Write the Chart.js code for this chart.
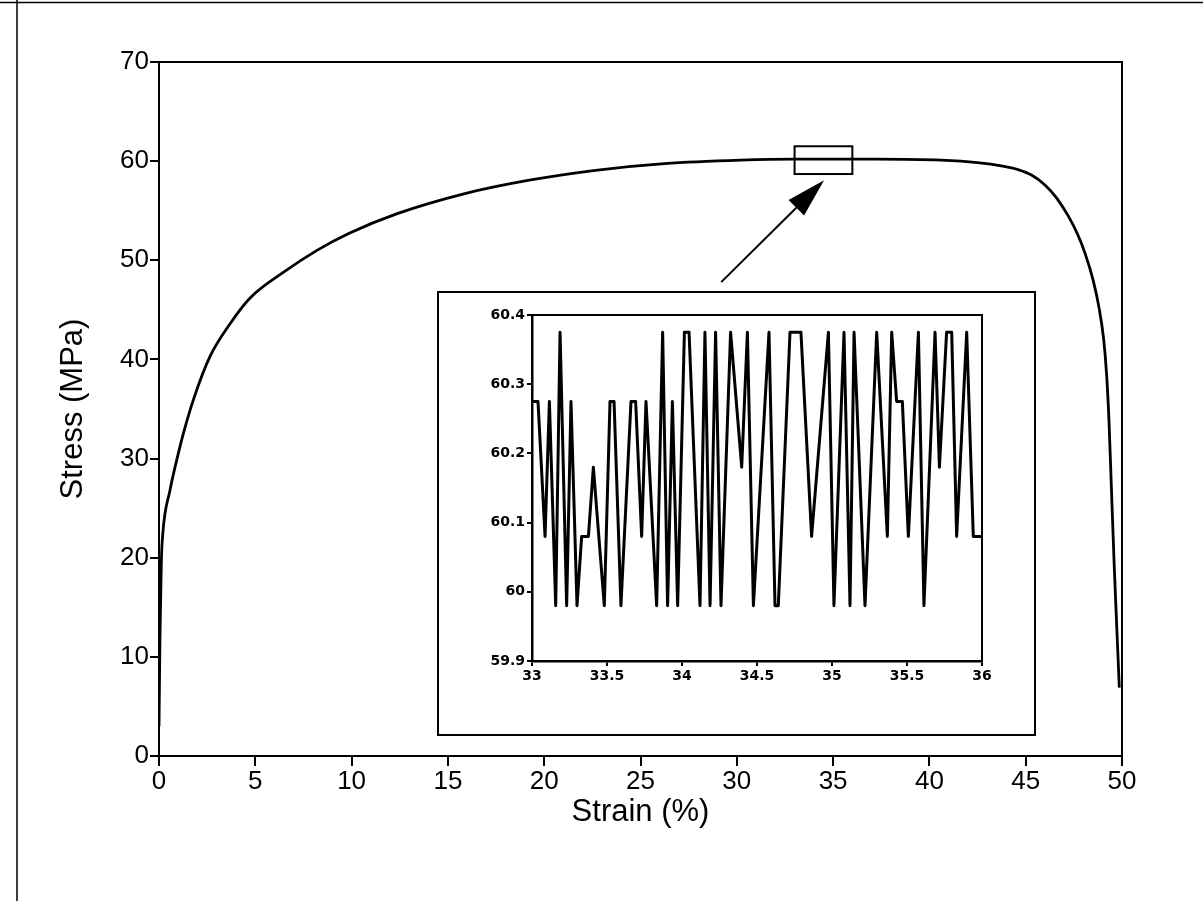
<!DOCTYPE html>
<html>
<head>
<meta charset="utf-8">
<script src="https://cdn.jsdelivr.net/npm/chart.js@4.4.1/dist/chart.umd.min.js"></script>
<style>
  html, body { margin: 0; padding: 0; background: #fff; overflow: hidden; }
  #wrap { position: relative; width: 1203px; height: 901px; }
  #main { position: absolute; left: 0; top: 0; }
  #inset { position: absolute; left: 437px; top: 291px; }
</style>
</head>
<body>
<div id="wrap">
  <canvas id="main" width="1203" height="901"></canvas>
  <canvas id="inset" width="599" height="445"></canvas>
</div>
<script>
// ---- Main curve (Strain %, Stress MPa) ----
const strain = [0, 0.05, 0.12, 0.2, 0.57, 1.0, 1.26, 1.78, 2.65, 3.69, 4.73, 6.47, 8.2, 9.85,
  12.37, 15.83, 19.3, 22.77, 26.24, 30.2, 33.0, 37.2, 40.6, 42.5, 43.8, 44.6, 45.3, 46.0,
  46.6, 47.2, 47.7, 48.1, 48.5, 48.8, 49.05, 49.2, 49.32, 49.45, 49.6, 49.75, 49.86];
const stress = [3, 12, 19.5, 22.5, 26.8, 30.5, 32.5, 35.9, 40.3, 43.6, 46.2, 48.8, 51.0, 52.7,
  54.7, 56.7, 58.1, 59.1, 59.75, 60.1, 60.2, 60.2, 60.1, 59.85, 59.5, 59.15, 58.6, 57.6,
  56.3, 54.5, 52.6, 50.6, 48.0, 45.3, 42.0, 38.5, 34.0, 27.0, 19.0, 12.0, 6.9];

// ---- Inset (zoom of 33-36 % strain) ----
const insetStrain = [33.00, 33.04, 33.087, 33.116, 33.158, 33.187, 33.231, 33.26, 33.30, 33.331,
  33.376, 33.409, 33.482, 33.52, 33.547, 33.593, 33.66, 33.691, 33.731, 33.76,
  33.831, 33.871, 33.904, 33.936, 33.971, 34.016, 34.047, 34.12, 34.153, 34.187,
  34.224, 34.26, 34.324, 34.398, 34.436, 34.476, 34.58, 34.62, 34.642, 34.72,
  34.793, 34.864, 34.976, 35.013, 35.08, 35.12, 35.147, 35.22, 35.298, 35.369,
  35.398, 35.431, 35.469, 35.509, 35.576, 35.613, 35.687, 35.716, 35.764, 35.798,
  35.831, 35.898, 35.942, 36.0];
const insetStress = [60.275, 60.275, 60.08, 60.275, 59.98, 60.375, 59.98, 60.275, 59.98, 60.08,
  60.08, 60.18, 59.98, 60.275, 60.275, 59.98, 60.275, 60.275, 60.08, 60.275,
  59.98, 60.375, 59.98, 60.275, 59.98, 60.375, 60.375, 59.98, 60.375, 59.98,
  60.375, 59.98, 60.375, 60.18, 60.375, 59.98, 60.375, 59.98, 59.98, 60.375,
  60.375, 60.08, 60.375, 59.98, 60.375, 59.98, 60.375, 59.98, 60.375, 60.08,
  60.375, 60.275, 60.275, 60.08, 60.375, 59.98, 60.375, 60.18, 60.375, 60.375,
  60.08, 60.375, 60.08, 60.08];

// ---- Axis settings ----
const xMin = 0, xMax = 50, xStep = 5;
const yMin = 0, yMax = 70, yStep = 10;
const insetXMin = 33, insetXMax = 36, insetXStep = 0.5;
const insetYMin = 59.9, insetYMax = 60.4, insetYStep = 0.1;
const zoomBox = { x0: 33, x1: 36, y0: 58.7, y1: 61.5 };
const arrowFrom = { x: 29.19, y: 47.8 };
const arrowTo = { x: 34.53, y: 58.07 };

const FONT = "'Liberation Sans', Arial, Helvetica, sans-serif";
const INSET_FONT = "'DejaVu Sans', sans-serif";

function toXY(xs, ys) { return xs.map((x, i) => ({ x: x, y: ys[i] })); }

const framePlugin = {
  id: 'frame',
  afterDraw(chart, args, opts) {
    const { ctx, chartArea: a } = chart;
    ctx.save();
    ctx.strokeStyle = '#000';
    ctx.lineWidth = opts.width || 2;
    ctx.beginPath();
    ctx.moveTo(a.left, a.top);
    ctx.lineTo(a.right, a.top);
    ctx.lineTo(a.right, a.bottom);
    ctx.stroke();
    if (opts.outer) {
      ctx.lineWidth = 2;
      ctx.strokeRect(1, 1, chart.width - 2, chart.height - 2);
    }
    ctx.restore();
  }
};

const decoPlugin = {
  id: 'deco',
  afterDraw(chart) {
    const { ctx, scales: { x, y } } = chart;
    ctx.save();
    ctx.strokeStyle = '#000';
    ctx.fillStyle = '#000';
    // scanned page border lines
    ctx.lineWidth = 1.5;
    ctx.beginPath();
    ctx.moveTo(0, 2.5); ctx.lineTo(chart.width, 2.5);
    ctx.moveTo(17, 0); ctx.lineTo(17, chart.height);
    ctx.stroke();
    // zoom box
    ctx.lineWidth = 2;
    const bx0 = x.getPixelForValue(zoomBox.x0), bx1 = x.getPixelForValue(zoomBox.x1);
    const by0 = y.getPixelForValue(zoomBox.y1), by1 = y.getPixelForValue(zoomBox.y0);
    ctx.strokeRect(bx0, by0, bx1 - bx0, by1 - by0);
    // arrow
    const p0x = x.getPixelForValue(arrowFrom.x), p0y = y.getPixelForValue(arrowFrom.y);
    const p1x = x.getPixelForValue(arrowTo.x), p1y = y.getPixelForValue(arrowTo.y);
    const ang = Math.atan2(p1y - p0y, p1x - p0x);
    const L = 39, W = 11;
    const bx = p1x - L * Math.cos(ang), by = p1y - L * Math.sin(ang);
    ctx.lineWidth = 2;
    ctx.beginPath();
    ctx.moveTo(p0x, p0y); ctx.lineTo(bx, by); ctx.stroke();
    ctx.beginPath();
    ctx.moveTo(p1x, p1y);
    ctx.lineTo(bx + W * Math.sin(ang), by - W * Math.cos(ang));
    ctx.lineTo(bx - W * Math.sin(ang), by + W * Math.cos(ang));
    ctx.closePath();
    ctx.fill();
    ctx.restore();
  }
};

const whiteBg = {
  id: 'whiteBg',
  beforeDraw(chart) {
    const ctx = chart.ctx;
    ctx.save(); ctx.fillStyle = '#fff'; ctx.fillRect(0, 0, chart.width, chart.height); ctx.restore();
  }
};

new Chart(document.getElementById('main'), {
  type: 'scatter',
  data: {
    datasets: [{
      data: toXY(strain, stress),
      showLine: true,
      borderColor: '#000',
      borderWidth: 2.8,
      pointRadius: 0,
      cubicInterpolationMode: 'monotone'
    }]
  },
  options: {
    responsive: false,
    animation: false,
    events: [],
    layout: { padding: { top: 62, right: 81, left: 0, bottom: 0 } },
    plugins: { legend: { display: false }, tooltip: { enabled: false }, frame: { width: 2 } },
    scales: {
      x: {
        type: 'linear', min: xMin, max: xMax,
        ticks: { stepSize: xStep, color: '#000', font: { family: FONT, size: 26 }, padding: 0, maxRotation: 0 },
        grid: { drawOnChartArea: false, drawTicks: true, tickLength: 10, color: '#000', lineWidth: 2 },
        border: { display: true, color: '#000', width: 2 },
        title: { display: true, text: 'Strain (%)', color: '#000', font: { family: FONT, size: 31 }, padding: { top: 0, bottom: 70 } },
        afterFit(s) { s.height = 145; }
      },
      y: {
        type: 'linear', min: yMin, max: yMax,
        ticks: { stepSize: yStep, color: '#000', font: { family: FONT, size: 26 }, padding: 1 },
        grid: { drawOnChartArea: false, drawTicks: true, tickLength: 9, color: '#000', lineWidth: 2 },
        border: { display: true, color: '#000', width: 2 },
        title: { display: true, text: 'Stress (MPa)', color: '#000', font: { family: FONT, size: 31 }, padding: { top: 55, bottom: 0 } },
        afterFit(s) { s.width = 159; }
      }
    }
  },
  plugins: [whiteBg, framePlugin, decoPlugin]
});

function fmt1(v) { return String(Number(v.toFixed(1))); }

new Chart(document.getElementById('inset'), {
  type: 'scatter',
  data: {
    datasets: [{
      data: toXY(insetStrain, insetStress),
      showLine: true,
      borderColor: '#000',
      borderWidth: 3,
      pointRadius: 0,
      tension: 0,
      borderJoinStyle: 'round'
    }]
  },
  options: {
    responsive: false,
    animation: false,
    events: [],
    layout: { padding: { top: 24, right: 54, left: 0, bottom: 0 } },
    plugins: { legend: { display: false }, tooltip: { enabled: false }, frame: { width: 2, outer: true } },
    scales: {
      x: {
        type: 'linear', min: insetXMin, max: insetXMax,
        ticks: { stepSize: insetXStep, color: '#000', font: { family: INSET_FONT, size: 14, weight: 'bold' }, padding: 2, maxRotation: 0, callback: fmt1 },
        grid: { drawOnChartArea: false, drawTicks: true, tickLength: 5, color: '#000', lineWidth: 2 },
        border: { display: true, color: '#000', width: 2.5 },
        afterFit(s) { s.height = 75; }
      },
      y: {
        type: 'linear', min: insetYMin, max: insetYMax,
        ticks: { stepSize: insetYStep, color: '#000', font: { family: INSET_FONT, size: 14, weight: 'bold' }, padding: 2, callback: fmt1 },
        grid: { drawOnChartArea: false, drawTicks: true, tickLength: 5, color: '#000', lineWidth: 2 },
        border: { display: true, color: '#000', width: 2.5 },
        afterFit(s) { s.width = 95; }
      }
    }
  },
  plugins: [whiteBg, framePlugin]
});
</script>
</body>
</html>
